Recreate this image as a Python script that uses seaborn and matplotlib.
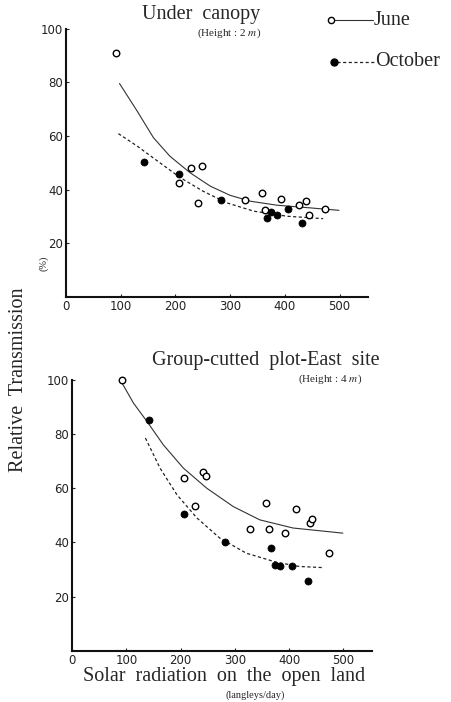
import numpy as np
import pandas as pd
import seaborn as sns
import matplotlib.pyplot as plt
from matplotlib.lines import Line2D

# ---- top panel: under canopy ----
top_june_x = [92, 228, 248, 207, 242, 328, 358, 363, 393, 426, 438, 444, 473]
top_june_y = [91, 48, 49, 42.6, 35, 36, 38.6, 32.6, 36.7, 34.2, 35.8, 30.7, 32.8]
top_oct_x = [143, 207, 283, 367, 374, 385, 406, 432]
top_oct_y = [50.3, 45.7, 36, 29.3, 31.6, 30.7, 32.8, 27.5]

top_june_curve_x = [98, 130, 160, 190, 227, 264, 300, 337, 386, 447, 499]
top_june_curve_y = [79.6, 69.4, 59.4, 52.5, 46.3, 41.3, 37.9, 35.7, 34.2, 33.2, 32.3]
top_oct_curve_x = [96, 130, 172, 209, 251, 294, 343, 404, 470]
top_oct_curve_y = [60.9, 56.3, 50, 44.5, 39.4, 35.1, 32, 30.1, 29.2]

# ---- bottom panel: group-cutted plot, east site ----
bot_june_x = [92, 206, 241, 247, 227, 327, 357, 362, 393, 413, 438, 442, 473]
bot_june_y = [100, 63.6, 65.8, 64.6, 53.6, 44.9, 54.7, 45, 43.3, 52.4, 47.3, 48.7, 36]
bot_oct_x = [141, 207, 282, 366, 373, 384, 406, 434]
bot_oct_y = [85.1, 50.5, 40.3, 37.9, 31.8, 31.4, 31.4, 25.9]

bot_june_curve_x = [92, 113, 138, 168, 205, 248, 297, 346, 407, 499]
bot_june_curve_y = [98.8, 91.4, 84.6, 76, 67.4, 60, 53.2, 48.3, 45.3, 43.4]
bot_oct_curve_x = [135, 162, 193, 230, 272, 321, 376, 419, 461]
bot_oct_curve_y = [78.5, 67.4, 57.6, 49, 41.6, 36, 32.7, 31.1, 30.7]

x_ticks = [0, 100, 200, 300, 400, 500]
y_ticks = [20, 40, 60, 80, 100]

sns.set_style("ticks")
plt.rcParams['font.family'] = ['DejaVu Sans']
plt.rcParams['mathtext.fontset'] = 'stix'
serif = ['Liberation Serif', 'DejaVu Serif']

fig = plt.figure(figsize=(4.51, 7.02), dpi=100)
ax1 = fig.add_axes([0.146, 0.577, 0.670, 0.382])
ax2 = fig.add_axes([0.160, 0.073, 0.664, 0.386])


def draw_panel(ax, jx, jy, ox, oy, jcx, jcy, ocx, ocy):
    sns.lineplot(x=jcx, y=jcy, ax=ax, color='#333333', linewidth=0.8, sort=False)
    sns.lineplot(x=ocx, y=ocy, ax=ax, color='#222222', linewidth=0.9, sort=False,
                 linestyle=(0, (2.5, 2)))
    sns.scatterplot(x=jx, y=jy, ax=ax, marker='o', s=22, facecolor='white',
                    edgecolor='black', linewidth=1.0, clip_on=False, zorder=3)
    sns.scatterplot(x=ox, y=oy, ax=ax, marker='o', s=26, color='black',
                    edgecolor='black', linewidth=0.5, clip_on=False, zorder=3)
    ax.set_xlim(0, 552)
    ax.set_ylim(0, 100)
    ax.set_xticks(x_ticks)
    ax.set_yticks(y_ticks)
    ax.tick_params(direction='in', length=2, width=0.8, labelsize=8.5, pad=2,
                   colors='#222222')
    for side in ['left', 'bottom']:
        ax.spines[side].set_linewidth(1.5)
        ax.spines[side].set_color('#111111')
    sns.despine(ax=ax)
    ax.set_xlabel('')
    ax.set_ylabel('')


draw_panel(ax1, top_june_x, top_june_y, top_oct_x, top_oct_y,
           top_june_curve_x, top_june_curve_y, top_oct_curve_x, top_oct_curve_y)
draw_panel(ax2, bot_june_x, bot_june_y, bot_oct_x, bot_oct_y,
           bot_june_curve_x, bot_june_curve_y, bot_oct_curve_x, bot_oct_curve_y)

# titles
fig.text(0.446, 0.979, 'Under  canopy', family=serif, fontsize=14.5, ha='center', va='center')
fig.text(0.508, 0.953, r'(Height : 2 $m$)', family=serif, fontsize=8, ha='center', va='center')
fig.text(0.590, 0.487, 'Group-cutted  plot-East  site', family=serif, fontsize=14.5,
         ha='center', va='center')
fig.text(0.732, 0.460, r'(Height : 4 $m$)', family=serif, fontsize=8, ha='center', va='center')

# axis labels
fig.text(0.497, 0.036, 'Solar  radiation  on  the  open  land', family=serif, fontsize=14.5,
         ha='center', va='center')
fig.text(0.566, 0.009, '(langleys/day)', family=serif, fontsize=7.5, ha='center', va='center')
fig.text(0.040, 0.459, 'Relative  Transmission', family=serif, fontsize=14.5, rotation=90,
         ha='center', va='center')
fig.text(0.096, 0.625, '(%)', family=serif, fontsize=7.5, rotation=90, ha='center', va='center')

# legend (top right)
fig.add_artist(Line2D([0.742, 0.826], [0.9715, 0.9715], color='#333333', linewidth=0.8))
fig.add_artist(Line2D([0.734], [0.9715], marker='o', markersize=4.5, markerfacecolor='white',
                      markeredgecolor='black', markeredgewidth=1.0, linestyle='none'))
fig.text(0.829, 0.9715, 'June', family=serif, fontsize=14.5, ha='left', va='center')
fig.add_artist(Line2D([0.748, 0.830], [0.912, 0.912], color='#222222', linewidth=0.9,
                      linestyle=(0, (2.5, 2))))
fig.add_artist(Line2D([0.741], [0.912], marker='o', markersize=5, color='black',
                      linestyle='none'))
fig.text(0.832, 0.912, 'October', family=serif, fontsize=14.5, ha='left', va='center')

fig.savefig('out.png', dpi=100)
